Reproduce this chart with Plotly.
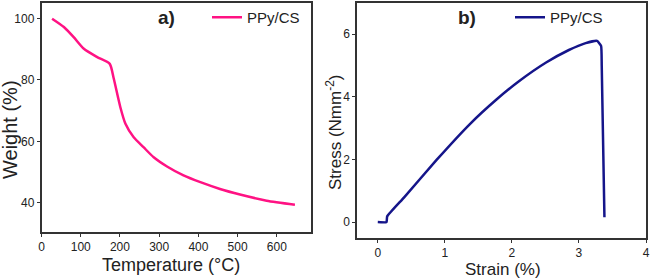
import plotly.graph_objects as go

temp_c = [27, 57, 82, 108, 142, 174, 184, 201, 214, 235, 260, 286, 320, 362, 405, 455, 506, 574, 646]
weight_pct = [99.9, 97.2, 93.9, 90.1, 87.4, 85.2, 80.5, 71.1, 65.7, 61.3, 58.1, 54.8, 51.8, 48.9, 46.7, 44.5, 42.7, 40.7, 39.4]

strain_pct = [0, 0.13, 0.14, 0.39, 0.88, 1.37, 1.77, 2.11, 2.51, 2.85, 3.10, 3.27, 3.33, 3.34, 3.38]
stress_n = [0, 0, 0.18, 0.78, 1.99, 3.12, 3.91, 4.50, 5.09, 5.49, 5.71, 5.78, 5.62, 4.98, 0.15]

FONT = "Liberation Sans, Arial, sans-serif"
pink = "#ff1283"
navy = "#15158a"
txt = "#222"

fig = go.Figure()
fig.add_trace(go.Scatter(x=temp_c, y=weight_pct, mode="lines", name="PPy/CS", showlegend=True,
                         line=dict(color=pink, width=2.5, shape="spline", smoothing=0.6),
                         xaxis="x", yaxis="y", legend="legend"))
fig.add_trace(go.Scatter(x=strain_pct, y=stress_n, mode="lines", name="PPy/CS", showlegend=True,
                         line=dict(color=navy, width=2.5, shape="spline", smoothing=0.4),
                         xaxis="x2", yaxis="y2", legend="legend2"))

axis_common = dict(showline=True, mirror=True, linecolor="#333", linewidth=1.5,
                   ticks="outside", ticklen=3, tickcolor="#333", showgrid=False,
                   zeroline=False, automargin=False,
                   tickfont=dict(size=12, color=txt, family=FONT))

def ann(text, x, y, size, angle=0):
    return dict(text=text, x=x / 653, y=1 - y / 279, xref="paper", yref="paper",
                xanchor="center", yanchor="middle", showarrow=False, textangle=angle,
                font=dict(size=size, family=FONT, color=txt))

fig.update_layout(
    width=653, height=279, margin=dict(l=0, r=0, t=0, b=0, autoexpand=False),
    plot_bgcolor="white", paper_bgcolor="white",
    font=dict(family=FONT, color=txt),
    showlegend=True,
    xaxis=dict(domain=[41.5/653, 311/653], range=[0, 687], tickvals=[0, 100, 200, 300, 400, 500, 600],
               anchor="y", **axis_common),
    yaxis=dict(domain=[1-232/279, 1-3/279], range=[30.5, 105], tickvals=[40, 60, 80, 100],
               anchor="x", **axis_common),
    xaxis2=dict(domain=[357/653, 646/653], range=[-0.31, 4.0], tickvals=[0, 1, 2, 3, 4],
                anchor="y2", **axis_common),
    yaxis2=dict(domain=[1-238/279, 1-3/279], range=[-0.51, 6.99], tickvals=[0, 2, 4, 6],
                anchor="x2", **axis_common),
    legend=dict(x=207/653, y=1-1/279, xanchor="left", yanchor="top", bgcolor="rgba(0,0,0,0)",
                font=dict(size=15, family=FONT, color=txt)),
    legend2=dict(x=510/653, y=1-1/279, xanchor="left", yanchor="top", bgcolor="rgba(0,0,0,0)",
                 font=dict(size=15, family=FONT, color=txt)),
    annotations=[
        ann("<b>a)</b>", 166, 17, 19),
        ann("<b>b)</b>", 467, 17, 19),
        ann("Temperature (°C)", 171, 265, 18),
        ann("Strain (%)", 503, 269, 17),
        ann("Weight (%)", 10, 130, 20, -90),
        ann("Stress (Nmm<sup>-2</sup>)", 334, 133, 17, -90),
    ],
)

fig.write_html("out.html", config={"displayModeBar": False},
               post_script="document.body.style.margin='0';document.body.style.padding='0';")
